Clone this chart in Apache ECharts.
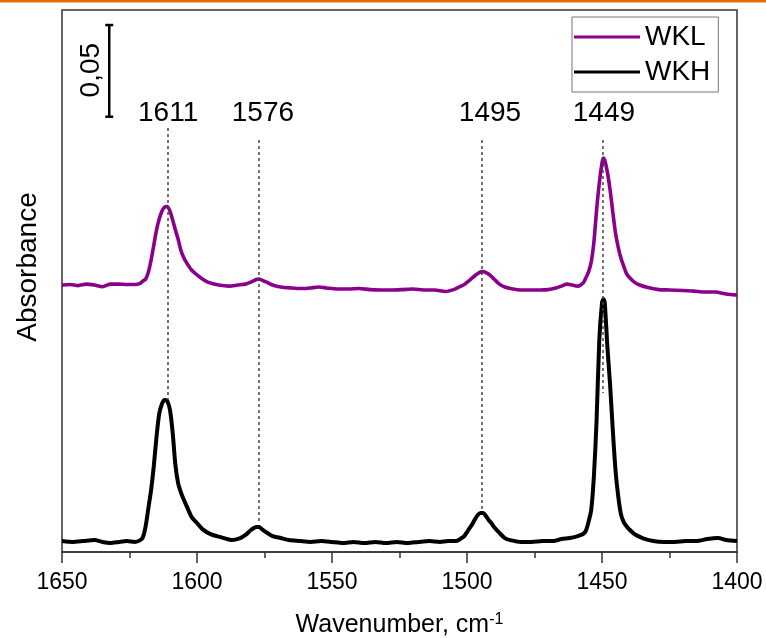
<!DOCTYPE html>
<html>
<head>
<meta charset="utf-8">
<script src="https://cdn.jsdelivr.net/npm/echarts@6/dist/echarts.min.js"></script>
<style>
html,body{margin:0;padding:0;background:#fff;}
#chart{width:766px;height:638px;}
</style>
</head>
<body>
<div id="chart"></div>
<script>
// ---- data (wavenumber cm-1, absorbance) ----
const wkl = [[1650,0.1456],[1647,0.1459],[1644,0.1453],[1641,0.1461],[1638,0.1456],[1635,0.1447],[1632,0.1461],[1629,0.1461],[1626,0.1459],[1623,0.1459],[1621,0.1465],[1620,0.1478],[1619,0.1489],[1618,0.1527],[1617,0.1592],[1616,0.1674],[1615,0.1756],[1614,0.1816],[1613,0.1859],[1612,0.1881],[1611,0.1884],[1610,0.1859],[1609,0.1810],[1608,0.1756],[1607,0.1707],[1606,0.1647],[1605,0.1609],[1604,0.1581],[1602,0.1538],[1600,0.1511],[1598,0.1489],[1596,0.1472],[1592,0.1456],[1588,0.1450],[1585,0.1456],[1582,0.1461],[1580,0.1472],[1578,0.1486],[1577,0.1489],[1576,0.1483],[1574,0.1470],[1572,0.1456],[1569,0.1445],[1565,0.1440],[1561,0.1437],[1558,0.1440],[1555,0.1445],[1552,0.1440],[1548,0.1434],[1544,0.1434],[1540,0.1437],[1536,0.1431],[1532,0.1429],[1528,0.1429],[1524,0.1431],[1520,0.1434],[1516,0.1429],[1512,0.1429],[1508,0.1421],[1505,0.1431],[1503,0.1445],[1501,0.1459],[1499,0.1483],[1497,0.1508],[1496,0.1519],[1495,0.1527],[1494,0.1530],[1493,0.1524],[1492,0.1516],[1490,0.1489],[1488,0.1461],[1486,0.1445],[1483,0.1434],[1480,0.1429],[1476,0.1429],[1473,0.1429],[1470,0.1431],[1467,0.1440],[1465,0.1450],[1463,0.1461],[1461,0.1456],[1459,0.1450],[1457,0.1467],[1456,0.1494],[1455,0.1527],[1454,0.1581],[1453,0.1690],[1452,0.1865],[1451,0.2012],[1450,0.2121],[1449.5,0.2148],[1449,0.2138],[1448,0.2072],[1447,0.1974],[1446,0.1854],[1445,0.1740],[1444,0.1663],[1443,0.1603],[1442,0.1560],[1441,0.1521],[1440,0.1500],[1438,0.1472],[1436,0.1456],[1433,0.1442],[1429,0.1431],[1425,0.1429],[1420,0.1426],[1416,0.1423],[1412,0.1418],[1408,0.1418],[1404,0.1407],[1400,0.1401]];

const wkh = [[1650,0.0060],[1646,0.0055],[1642,0.0060],[1638,0.0065],[1635,0.0055],[1632,0.0049],[1629,0.0055],[1626,0.0060],[1623,0.0055],[1621,0.0065],[1620,0.0082],[1619,0.0142],[1618,0.0240],[1617,0.0338],[1616,0.0469],[1615,0.0627],[1614,0.0753],[1613,0.0807],[1612,0.0829],[1611,0.0823],[1610,0.0774],[1609,0.0649],[1608,0.0474],[1607,0.0376],[1606,0.0327],[1605,0.0289],[1604,0.0256],[1602,0.0191],[1600,0.0158],[1598,0.0125],[1595,0.0098],[1590,0.0076],[1587,0.0065],[1584,0.0076],[1582,0.0093],[1580,0.0120],[1578,0.0136],[1577,0.0136],[1576,0.0125],[1574,0.0104],[1572,0.0087],[1569,0.0076],[1566,0.0065],[1562,0.0060],[1558,0.0055],[1554,0.0060],[1550,0.0055],[1546,0.0049],[1542,0.0055],[1538,0.0049],[1534,0.0055],[1530,0.0049],[1526,0.0055],[1522,0.0049],[1518,0.0055],[1514,0.0060],[1510,0.0055],[1507,0.0060],[1504,0.0060],[1502,0.0076],[1501,0.0087],[1500,0.0109],[1499,0.0131],[1498,0.0153],[1497,0.0180],[1496,0.0202],[1495,0.0213],[1494,0.0213],[1493,0.0196],[1492,0.0175],[1491,0.0158],[1490,0.0136],[1488,0.0104],[1486,0.0076],[1484,0.0065],[1480,0.0055],[1476,0.0055],[1472,0.0060],[1468,0.0060],[1465,0.0071],[1462,0.0076],[1459,0.0087],[1457,0.0098],[1456,0.0115],[1455,0.0164],[1454,0.0229],[1453,0.0414],[1452,0.0720],[1451,0.1156],[1450,0.1358],[1449.5,0.1380],[1449,0.1363],[1448,0.1118],[1447,0.0911],[1446,0.0665],[1445,0.0447],[1444,0.0305],[1443,0.0207],[1442,0.0164],[1441,0.0142],[1440,0.0125],[1438,0.0098],[1435,0.0076],[1431,0.0060],[1427,0.0055],[1423,0.0055],[1419,0.0060],[1415,0.0060],[1411,0.0071],[1407,0.0076],[1404,0.0065],[1400,0.0060]];

const seriesNames = ['WKL', 'WKH'];
const xTicks = [1650, 1600, 1550, 1500, 1450, 1400];

// peak annotations
const peakLabels = ['1611', '1576', '1495', '1449'];
const peakLabelX = [1610.7, 1575.6, 1491.5, 1449.3];
const peakLabelY = 0.2394;
const peakLineX = [1611, 1577.3, 1494.6, 1449.9];
const peakLineTop = [0.2312, 0.2247, 0.2247, 0.2247];
const peakLineBottom = [0.0829, 0.0158, 0.0229, 0.0867];

// scale bar (0,05 absorbance)
const scaleBarX = 1632.5;
const scaleBarBottom = 0.2374;
const scaleBarSize = 0.05;
const scaleLabel = '0,05';
const scaleLabelPos = [1639.3, 0.2628];

const FONT = "'Liberation Sans', Arial, Helvetica, sans-serif";

const chart = echarts.init(document.getElementById('chart'), null, {renderer: 'canvas'});

const option = {
  animation: false,
  backgroundColor: '#fff',
  textStyle: {fontFamily: FONT},
  graphic: [{
    type: 'rect', left: 0, top: 0, shape: {width: 766, height: 2.5},
    style: {fill: '#E36C09'}, silent: true
  }],
  grid: {left: 62, right: 29, top: 10, bottom: 86, show: true, borderColor: '#333', borderWidth: 1.5,
    containLabel: false, outerBoundsMode: 'none'},
  legend: {
    data: seriesNames,
    orient: 'vertical',
    left: 572, top: 17,
    padding: [6, 8, 6, 2],
    itemGap: 7,
    itemWidth: 66, itemHeight: 3,
    icon: 'rect',
    borderColor: '#777', borderWidth: 1,
    textStyle: {fontSize: 28, color: '#000', fontFamily: FONT, lineHeight: 28}
  },
  xAxis: {
    type: 'value', min: xTicks[xTicks.length - 1], max: xTicks[0], interval: 50, inverse: true,
    axisLine: {show: true, lineStyle: {color: '#333', width: 1.5}},
    axisTick: {show: true, inside: false, length: 11, lineStyle: {color: '#333', width: 1.5}},
    minorTick: {show: true, splitNumber: 2, length: 6, lineStyle: {color: '#333', width: 1.5}},
    splitLine: {show: false},
    axisLabel: {fontSize: 23, color: '#000', margin: 19, fontFamily: FONT, formatter: v => String(v)},
    name: 'Wavenumber, cm{sup|-1}',
    nameLocation: 'middle', nameGap: 60,
    nameTextStyle: {fontSize: 25, color: '#000', fontFamily: FONT, lineHeight: 27,
      rich: {sup: {fontSize: 16, lineHeight: 16, verticalAlign: 'top', color: '#000', fontFamily: FONT}}}
  },
  yAxis: {
    type: 'value', min: 0, max: 0.2956,
    axisLine: {show: false}, axisTick: {show: false}, axisLabel: {show: false}, splitLine: {show: false},
    name: 'Absorbance', nameLocation: 'middle', nameGap: 20,
    nameTextStyle: {fontSize: 28, color: '#000', fontFamily: FONT, padding: [0, 0, 0, 28]}
  },
  series: [
    {
      name: seriesNames[0], type: 'line', data: wkl, showSymbol: false, smooth: 0.25,
      color: '#8B008B', lineStyle: {color: '#8B008B', width: 3.6}, z: 3
    },
    {
      name: seriesNames[1], type: 'line', data: wkh, showSymbol: false, smooth: 0.25,
      color: '#000', lineStyle: {color: '#000', width: 4}, z: 3
    },
    {
      name: 'scalebar', type: 'line', silent: true,
      data: [[scaleBarX, scaleBarBottom], [scaleBarX, scaleBarBottom + scaleBarSize]],
      symbol: 'rect', symbolSize: [8, 2.5], showSymbol: true,
      itemStyle: {color: '#000'}, lineStyle: {color: '#000', width: 2.5}, z: 4
    },
    {
      name: 'peaklines', type: 'line', data: [], silent: true, z: 5,
      markLine: {
        silent: true, symbol: ['none', 'none'], label: {show: false},
        lineStyle: {type: [3, 3], color: '#444', width: 1.5},
        data: peakLineX.map((x, i) => [{coord: [x, peakLineTop[i]]}, {coord: [x, peakLineBottom[i]]}])
      }
    },
    {
      name: 'peaklabels', type: 'scatter', silent: true, symbolSize: 0,
      itemStyle: {opacity: 1},
      data: peakLabels.map((t, i) => ({name: t, value: [peakLabelX[i], peakLabelY]})),
      label: {show: true, formatter: p => p.name, position: [0, 0], align: 'center', verticalAlign: 'middle',
        fontSize: 28, color: '#000', opacity: 1, fontFamily: FONT}, z: 6
    },
    {
      name: 'scalelabel', type: 'scatter', silent: true, symbolSize: 0,
      itemStyle: {opacity: 1},
      data: [{name: scaleLabel, value: scaleLabelPos}],
      label: {show: true, formatter: p => p.name, position: [0, 0], align: 'center', verticalAlign: 'middle',
        rotate: 90, fontSize: 28, color: '#000', opacity: 1, fontFamily: FONT}, z: 6
    }
  ]
};
chart.setOption(option);
</script>
</body>
</html>
